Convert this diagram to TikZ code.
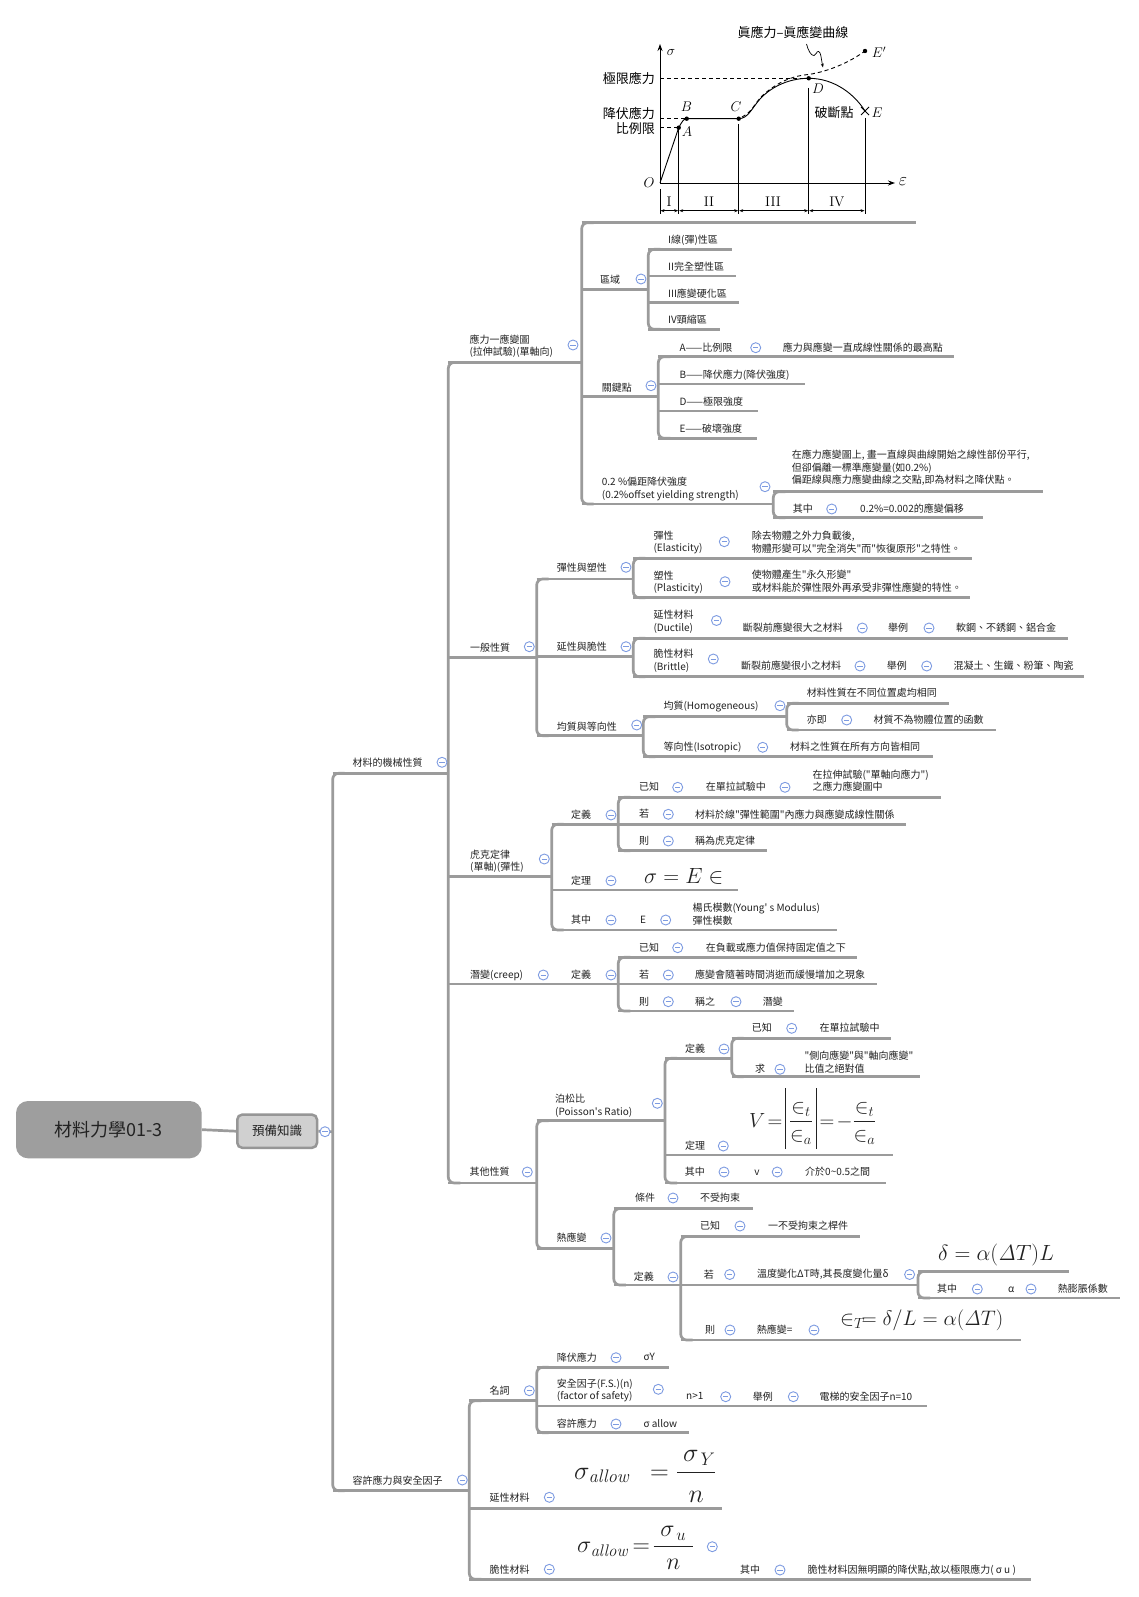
\RequirePackage{fix-cm}
\documentclass[tikz,border=0pt]{standalone}
\usepackage{amsmath}
\usepackage[no-math]{fontspec}
\setmainfont{Noto Sans CJK TC}
\newfontfamily\cjkf{Noto Sans CJK TC}
\usetikzlibrary{arrows.meta}
\definecolor{lgray}{RGB}{155,155,155}
\definecolor{icb}{RGB}{125,155,225}
\definecolor{txt}{RGB}{34,34,34}
\definecolor{rootgray}{RGB}{158,158,158}
\definecolor{boxfill}{RGB}{208,208,208}
\definecolor{boxborder}{RGB}{150,150,150}
\newcommand\mystrut{\rule[-1.2pt]{0pt}{8.8pt}}
\newcommand\mnl{\\\mystrut}
\newcommand\mmfont{\cjkf\fontsize{10}{12.8}\selectfont}
\newcommand\mmline[4]{\coordinate (#1-s) at (#2,#4); \coordinate (#1-e) at (#3,#4); \draw[ln] (#1-s) -- (#1-e);}
\newcommand\mmbar[2]{\draw[br] ([xshift=12pt]#1-s) -- (#1-s) -- (#2-s) -- ([xshift=12pt]#2-s);}
\newcommand\mlab[4]{\node[lbl] (#1) at (#2,#3) {#4};}
\newcommand\mico[3]{\node[ic] (#1) at (#2,#3) {};}
\newcommand\absbar{\rule[-22pt]{0.9pt}{61pt}}
\tikzset{
  ln/.style={draw=lgray, line width=2.7pt},
  br/.style={draw=lgray, line width=2.7pt, rounded corners=6pt},
  lbl/.style={anchor=west, inner sep=0pt, font=\mmfont, text=txt, align=left, execute at begin node=\mystrut},
  ic/.style={circle, draw=icb, fill=white, line width=0.9pt, minimum size=10pt, inner sep=0pt,
    path picture={\draw[icb, line width=0.9pt] ([xshift=-2.6pt]path picture bounding box.center) -- ([xshift=2.6pt]path picture bounding box.center);}},
  fml/.style={anchor=base west, inner sep=0pt, text=txt},
  cl/.style={draw=black, line width=0.9pt},
  tipa/.style={-{Stealth[length=7pt,width=5pt]}},
  dbl/.style={draw=black, line width=0.6pt, {Stealth[length=4pt,width=3pt]}-{Stealth[length=4pt,width=3pt]}},
  chtxt/.style={inner sep=0pt, font=\cjkf\fontsize{13}{15}\selectfont},
  chmath/.style={inner sep=0pt, font=\fontsize{14}{16}\selectfont},
}
\begin{document}
\begin{tikzpicture}[x=1pt,y=-1pt]
\fill[white] (0,0) rectangle (1138,1597);
\useasboundingbox (0,0) rectangle (1138,1597);

% ---------------- chart ----------------
\coordinate (O) at (660,183);
\coordinate (A) at (678.7,127.7);
\coordinate (B) at (686.7,118.7);
\coordinate (C) at (738.7,118.7);
\coordinate (D) at (808.7,78.3);
\coordinate (E) at (865,111);
\coordinate (Ep) at (865,51);
\coordinate (ytop) at (660,44);
\coordinate (xend) at (895,183);
\draw[cl,tipa] (O) -- (ytop);
\draw[cl,tipa] (O) -- (xend);
\draw[cl] (O) -- (A) .. controls (681.5,122.5) and (683.5,118.7) .. (B) -- (C)
  .. controls (748,118.7) and (752,108) .. (760,99) .. controls (772,86) and (790,78.3) .. (D)
  .. controls (835,78.3) and (855,95) .. (E);
\draw[cl, dash pattern=on 4pt off 3pt] (742,117) .. controls (752,112) and (755,103) .. (762,96)
  .. controls (775,84) and (790,76) .. (808.7,74.5) .. controls (830,71) and (850,62) .. (Ep);
\draw[cl, dash pattern=on 4pt off 3pt] (660,127.7) -- (A);
\draw[cl, dash pattern=on 4pt off 3pt] (660,118.7) -- (B);
\draw[cl, dash pattern=on 4pt off 3pt] (660,78.3) -- (D);
\draw[cl] (A) -- (678.7,214);
\draw[cl] (738.7,124) -- (738.7,214);
\draw[cl] (808.7,88) -- (808.7,214);
\draw[cl] (865,118) -- (865,214);
\draw[cl] (660,189) -- (660,214);
\foreach \p in {A,B,C,D,Ep} \fill (\p) circle[radius=2.2pt];
\draw[cl] (861,107) -- (869,115);
\draw[cl] (861,115) -- (869,107);
\draw[dbl] (660.5,210.7) -- (678.2,210.7);
\draw[dbl] (679.2,210.7) -- (738.2,210.7);
\draw[dbl] (739.2,210.7) -- (808.2,210.7);
\draw[dbl] (809.2,210.7) -- (864.5,210.7);
\node[chmath] (lsig) at (671,52) {$\sigma$};
\node[chmath, font=\fontsize{18}{20}\selectfont] (leps) at (903,182) {$\varepsilon$};
\node[chmath] (lO) at (649,183) {$O$};
\node[chmath] (lA) at (687,132) {$A$};
\node[chmath] (lB) at (686.5,107) {$B$};
\node[chmath] (lC) at (736,107) {$C$};
\node[chmath] (lD) at (818,89) {$D$};
\node[chmath] (lE) at (877,113) {$E$};
\node[chmath] (lEp) at (879,52) {$E'$};
\node[chtxt, anchor=east] (lult) at (655,78.3) {極限應力};
\node[chtxt, anchor=east] (lyld) at (655,113) {降伏應力};
\node[chtxt, anchor=east] (lprop) at (655,128.5) {比例限};
\node[chtxt] (lbrk) at (834,113) {破斷點};
\node[chtxt] (ltrue) at (793,32) {眞應力–眞應變曲線};
\node[chmath] (r1n) at (669,201.7) {$\mathrm{I}$};
\node[chmath] (r2n) at (709,201.7) {$\mathrm{II}$};
\node[chmath] (r3n) at (773,201.7) {$\mathrm{III}$};
\node[chmath] (r4n) at (837,201.7) {$\mathrm{IV}$};
\draw[draw=black, line width=0.7pt, -{Stealth[length=4pt,width=3pt]}] (806.5,44) .. controls (808,50) and (811,56) .. (814,55.5)
  .. controls (817,55) and (816,51) .. (818.5,51.5) .. controls (821,52) and (821,58) .. (823,67.5);

% ---------------- root ----------------
\node[fill=rootgray, rounded corners=12pt, minimum width=185.7pt, minimum height=57.3pt, inner sep=0pt,
  font=\cjkf\fontsize{18}{20}\selectfont, text=txt] (root) at (108.85,1129.65) {材料力學01-3};
\node[draw=boxborder, line width=2.5pt, fill=boxfill, rounded corners=5pt, minimum width=79.8pt, minimum height=33.2pt, inner sep=0pt,
  font=\cjkf\fontsize{12.5}{14}\selectfont, text=txt] (pre) at (277.15,1131.2) {預備知識};
\coordinate (prebar) at (332.7,1131.7);
\draw[ln] (root.east) -- (pre.west);
\draw[ln] (pre.east) -- (prebar);

% ---------------- lines ----------------
\mmline{mech}{332.7}{448.3}{773.3}
\mmline{allow}{332.7}{469.3}{1490.7}
\mmbar{mech}{allow}

\mmline{ssd}{448.3}{581.7}{362.4}
\mmline{gen}{448.3}{536.7}{657.7}
\mmline{hooke}{448.3}{551.7}{876.7}
\mmline{creep}{448.3}{618.3}{984}
\mmline{oth}{448.3}{536.7}{1183}
\mmbar{ssd}{oth}

\mmline{chart}{581.7}{916}{222.7}
\mmline{reg}{581.7}{648.3}{289.3}
\mmline{key}{581.7}{658.3}{396.7}
\mmline{off}{581.7}{773.3}{504}
\mmbar{chart}{off}

\mmline{ra}{648.3}{731.7}{249.3}
\mmline{rb}{648.3}{736}{276}
\mmline{rc}{648.3}{739}{302.7}
\mmline{rd}{648.3}{720}{329.3}
\mmbar{ra}{rd}

\mmline{ka}{658.3}{954}{356.7}
\mmline{kb}{658.3}{805}{384}
\mmline{kc}{658.3}{758.3}{411}
\mmline{kd}{658.3}{757.3}{438.3}
\mmbar{ka}{kd}

\mmline{oa}{773.3}{1043}{491.7}
\mmline{ob}{773.3}{982.7}{517.7}
\mmbar{oa}{ob}

\mmline{ep}{536.7}{633.3}{579}
\mmline{db}{536.7}{633.3}{656.7}
\mmline{hi}{536.7}{643.3}{735.7}
\mmbar{ep}{hi}

\mmline{el}{633.3}{971.7}{558.3}
\mmline{pl}{633.3}{970}{597.7}
\mmbar{el}{pl}

\mmline{du}{633.3}{1068.3}{638.3}
\mmline{brt}{633.3}{1084}{676.7}
\mmbar{du}{brt}

\mmline{ho}{643.3}{786.7}{716.7}
\mmline{iso}{643.3}{932.7}{756.7}
\mmbar{ho}{iso}

\mmline{ha}{786.7}{949.3}{703.3}
\mmline{hb}{786.7}{996}{730}
\mmbar{ha}{hb}

\mmline{hdef}{551.7}{618.3}{824.3}
\mmline{hthm}{551.7}{737.7}{890}
\mmline{hwh}{551.7}{836.7}{930}
\mmbar{hdef}{hwh}

\mmline{hk}{618.3}{941}{797.3}
\mmline{hif}{618.3}{906}{824.3}
\mmline{hthen}{618.3}{767.3}{850.7}
\mmbar{hk}{hthen}

\mmline{ck}{618.3}{856.7}{957.3}
\mmline{cif}{618.3}{877.3}{984}
\mmline{cthen}{618.3}{794}{1011}
\mmbar{ck}{cthen}

\mmline{poi}{536.7}{665}{1120.7}
\mmline{th}{536.7}{613.8}{1248.5}
\mmbar{poi}{th}

\mmline{pdef}{665}{731.7}{1058.3}
\mmline{pthm}{665}{893.3}{1155}
\mmline{pwh}{665}{885.5}{1183}
\mmbar{pdef}{pwh}

\mmline{pk}{731.7}{890.7}{1038.3}
\mmline{pq}{731.7}{920}{1076.7}
\mmbar{pk}{pq}

\mmline{tcond}{613.8}{752.7}{1208.5}
\mmline{tdef}{613.8}{680.7}{1285}
\mmbar{tcond}{tdef}

\mmline{tk}{680.7}{859.8}{1236.5}
\mmline{tif}{680.7}{918}{1285}
\mmline{tthen}{680.7}{1020.7}{1340}
\mmbar{tk}{tthen}

\mmline{tf}{918}{1069}{1271.4}
\mmline{twh}{918}{1120}{1298}
\mmbar{tf}{twh}

\mmline{noun}{469.3}{536.7}{1400.7}
\mmline{duc}{469.3}{722.3}{1508.3}
\mmline{bri}{469.3}{1031}{1579.3}
\mmbar{noun}{bri}

\mmline{ny}{536.7}{669.3}{1367.3}
\mmline{nfs}{536.7}{927.3}{1406}
\mmline{nal}{536.7}{689.3}{1432.7}
\mmbar{ny}{nal}

% ---------------- labels ----------------
\mlab{t-mech}{352.3}{763.3}{材料的機械性質}
\mlab{t-allow}{352.3}{1481}{容許應力與安全因子}
\mlab{t-ssd}{469.3}{346.2}{應力一應變圖\mnl(拉伸試驗)(單軸向)}
\mlab{t-gen}{470}{647.7}{一般性質}
\mlab{t-hooke}{470}{861.2}{虎克定律\mnl(單軸)(彈性)}
\mlab{t-creep}{470}{975}{潛變(creep)}
\mlab{t-creepdef}{571}{975}{定義}
\mlab{t-oth}{469.3}{1172}{其他性質}
\mlab{t-reg}{600}{280}{區域}
\mlab{t-key}{601.7}{387.7}{關鍵點}
\mlab{t-off}{601.7}{489.2}{0.2 \%偏距降伏強度\mnl(0.2\%offset yielding strength)}
\mlab{t-ra}{668}{240}{I線(彈)性區}
\mlab{t-rb}{668}{266.7}{II完全塑性區}
\mlab{t-rc}{668}{293.3}{III應變硬化區}
\mlab{t-rd}{668}{320}{IV頸縮區}
\mlab{t-ka}{679.3}{347.7}{A——比例限}
\mlab{t-ka2}{782.7}{347.7}{應力與應變一直成線性關係的最高點}
\mlab{t-kb}{679.3}{375}{B——降伏應力(降伏強度)}
\mlab{t-kc}{679.3}{401.7}{D——極限強度}
\mlab{t-kd}{679.3}{429}{E——破壞強度}
\mlab{t-oa}{791.7}{467.8}{在應力應變圖上, 畫一直線與曲線開始之線性部份平行,\mnl 但卻偏離一標準應變量(如0.2\%)\mnl 偏距線與應力應變曲線之交點,即為材料之降伏點。}
\mlab{t-ob}{792.7}{509}{其中}
\mlab{t-ob2}{860}{509}{0.2\%=0.002的應變偏移}
\mlab{t-ep}{556.7}{568.3}{彈性與塑性}
\mlab{t-db}{556.7}{646.7}{延性與脆性}
\mlab{t-hi}{556.7}{726.7}{均質與等向性}
\mlab{t-el}{653.3}{542.5}{彈性\mnl(Elasticity)}
\mlab{t-el2}{751.7}{542.5}{除去物體之外力負載後,\mnl 物體形變可以"完全消失"而"恢復原形"之特性。}
\mlab{t-pl}{653.3}{582.5}{塑性\mnl(Plasticity)}
\mlab{t-pl2}{751.7}{581}{使物體產生"永久形變"\mnl 或材料能於彈性限外再承受非彈性應變的特性。}
\mlab{t-du}{653.3}{621.4}{延性材料\mnl(Ductile)}
\mlab{t-du2}{742.7}{628}{斷裂前應變很大之材料}
\mlab{t-du3}{888}{628}{舉例}
\mlab{t-du4}{956}{628}{軟鋼、不銹鋼、鋁合金}
\mlab{t-brt}{653.3}{660.5}{脆性材料\mnl(Brittle)}
\mlab{t-brt2}{741}{666}{斷裂前應變很小之材料}
\mlab{t-brt3}{886.7}{666}{舉例}
\mlab{t-brt4}{953.3}{666}{混凝土、生鐵、粉筆、陶瓷}
\mlab{t-ho}{663.3}{706.7}{均質(Homogeneous)}
\mlab{t-iso}{663.3}{747.3}{等向性(Isotropic)}
\mlab{t-iso2}{790}{747.3}{材料之性質在所有方向皆相同}
\mlab{t-ha}{806.7}{693.3}{材料性質在不同位置處均相同}
\mlab{t-hb}{806.7}{720}{亦即}
\mlab{t-hb2}{873.3}{720}{材質不為物體位置的函數}
\mlab{t-hdef}{571}{815}{定義}
\mlab{t-hthm}{571}{880.7}{定理}
\mlab{t-hwh}{571}{920}{其中}
\mlab{t-hwh2}{640}{920}{E}
\mlab{t-hwh3}{692.3}{914}{楊氏模數(Young' s Modulus)\mnl 彈性模數}
\mlab{t-hk}{639}{787.3}{已知}
\mlab{t-hk2}{705.7}{787.3}{在單拉試驗中}
\mlab{t-hk3}{812.3}{780.8}{在拉伸試驗("單軸向應力")\mnl 之應力應變圖中}
\mlab{t-hif}{639}{814.3}{若}
\mlab{t-hif2}{695}{814.3}{材料於線"彈性範圍"內應力與應變成線性關係}
\mlab{t-hthen}{639}{841}{則}
\mlab{t-hthen2}{695}{841}{稱為虎克定律}
\mlab{t-ck}{639}{947.7}{已知}
\mlab{t-ck2}{705.7}{947.7}{在負載或應力值保持固定值之下}
\mlab{t-cif}{639}{975}{若}
\mlab{t-cif2}{695}{975}{應變會隨著時間消逝而緩慢增加之現象}
\mlab{t-cthen}{639}{1001.7}{則}
\mlab{t-cthen2}{695}{1001.7}{稱之}
\mlab{t-cthen3}{762.7}{1001.7}{潛變}
\mlab{t-poi}{555}{1105.8}{泊松比\mnl(Poisson's Ratio)}
\mlab{t-th}{556.4}{1238}{熱應變}
\mlab{t-pdef}{685}{1049}{定義}
\mlab{t-pthm}{685}{1146}{定理}
\mlab{t-pwh}{684.6}{1172}{其中}
\mlab{t-pwh2}{754.2}{1172}{v}
\mlab{t-pwh3}{805}{1172}{介於0\textasciitilde0.5之間}
\mlab{t-pk}{751.7}{1028.3}{已知}
\mlab{t-pk2}{819.3}{1028.3}{在單拉試驗中}
\mlab{t-pq}{755}{1069.3}{求}
\mlab{t-pq2}{804.3}{1062.6}{"側向應變"與"軸向應變"\mnl 比值之絕對值}
\mlab{t-tcond}{634.8}{1198}{條件}
\mlab{t-tcond2}{700}{1198}{不受拘束}
\mlab{t-tdef}{633.7}{1277}{定義}
\mlab{t-tk}{700}{1226}{已知}
\mlab{t-tk2}{768}{1226}{一不受拘束之桿件}
\mlab{t-tif}{703.7}{1274.5}{若}
\mlab{t-tif2}{757}{1274.5}{溫度變化ΔT時,其長度變化量δ}
\mlab{t-tthen}{705}{1330}{則}
\mlab{t-tthen2}{756.7}{1330}{熱應變=}
\mlab{t-twh}{937}{1289}{其中}
\mlab{t-twh2}{1008}{1289}{α}
\mlab{t-twh3}{1057.7}{1289}{熱膨脹係數}
\mlab{t-noun}{489.3}{1390.7}{名詞}
\mlab{t-duc}{489.3}{1498.3}{延性材料}
\mlab{t-bri}{489.3}{1570}{脆性材料}
\mlab{t-bri2}{740}{1570}{其中}
\mlab{t-bri3}{807.3}{1570}{脆性材料因無明顯的降伏點,故以極限應力( σ u )}
\mlab{t-ny}{556.7}{1357.7}{降伏應力}
\mlab{t-ny2}{643.3}{1357.7}{σY}
\mlab{t-nfs}{556.7}{1390.4}{安全因子(F.S.)(n)\mnl(factor of safety)}
\mlab{t-nfs2}{686}{1396.7}{n>1}
\mlab{t-nfs3}{752.7}{1396.7}{舉例}
\mlab{t-nfs4}{819.3}{1396.7}{電梯的安全因子n=10}
\mlab{t-nal}{556.7}{1424}{容許應力}
\mlab{t-nal2}{643.3}{1424}{σ allow}

% ---------------- formulas ----------------
\node[fml, font=\fontsize{22}{22}\selectfont] (f-hooke) at (644,883.5) {$\sigma = E \in$};
\node[fml, font=\fontsize{20.5}{21}\selectfont] (f-poi) at (749,1127) {$V\!=\!\absbar\,\dfrac{\in_t}{\in_a}\,\absbar\!=\!-\dfrac{\in_t}{\in_a}$};
\node[fml, font=\fontsize{22}{22}\selectfont] (f-tf) at (938,1260.5) {$\delta=\alpha(\mathit{\Delta} T)L$};
\node[fml, font=\fontsize{21}{21}\selectfont] (f-tthen) at (840,1325.5) {$\in_T\!=\delta/L=\alpha(\mathit{\Delta} T)$};
\node[fml, font=\fontsize{26}{26}\selectfont] (f-duc) at (574,1479) {$\sigma_{\mathit{allow}}\ \ =\dfrac{\ \sigma_{\,Y}}{\rule{0pt}{26pt}n}$};
\node[fml, font=\fontsize{24}{24}\selectfont] (f-bri) at (577,1552.7) {$\sigma_{\mathit{allow}}\!=\!\dfrac{\;\sigma_{\,u}\;}{n}$};

% ---------------- icons ----------------
\mico{i-pre}{325}{1131.7}
\mico{i-mech}{442}{762.3}
\mico{i-allow}{462.3}{1480}
\mico{i-ssd}{573}{345}
\mico{i-gen}{529.3}{646.7}
\mico{i-hooke}{544.3}{859}
\mico{i-creep}{543.3}{975}
\mico{i-creepdef}{611}{975}
\mico{i-oth}{527.3}{1172}
\mico{i-reg}{641}{279}
\mico{i-key}{651}{385.7}
\mico{i-off}{765}{486.7}
\mico{i-ka}{755.7}{347.7}
\mico{i-ob}{831.7}{509}
\mico{i-ep}{626}{567.3}
\mico{i-db}{626}{646.7}
\mico{i-hi}{636.7}{725}
\mico{i-el}{724.3}{541.7}
\mico{i-pl}{725}{581.7}
\mico{i-du}{716.5}{620.5}
\mico{i-du2}{862.3}{628}
\mico{i-du3}{929}{628}
\mico{i-brt}{713.3}{659}
\mico{i-brt2}{860}{666}
\mico{i-brt3}{926.7}{666}
\mico{i-ho}{780}{705.7}
\mico{i-iso}{762.7}{747.3}
\mico{i-hb}{846.7}{720}
\mico{i-hdef}{611}{815}
\mico{i-hthm}{611}{880.7}
\mico{i-hwh}{611}{920}
\mico{i-hwh2}{665.7}{920}
\mico{i-hk}{677.7}{787.3}
\mico{i-hk2}{785}{787.3}
\mico{i-hif}{668.3}{814.3}
\mico{i-hthen}{668.3}{841}
\mico{i-ck}{677.7}{947.7}
\mico{i-cif}{668.3}{975}
\mico{i-cthen}{668.3}{1001.7}
\mico{i-cthen2}{736}{1001.7}
\mico{i-poi}{657.3}{1103.3}
\mico{i-th}{606}{1238}
\mico{i-pdef}{724}{1049}
\mico{i-pthm}{723.3}{1146}
\mico{i-pwh}{724}{1172}
\mico{i-pwh2}{777.2}{1172}
\mico{i-pk}{791.7}{1028.3}
\mico{i-pq}{780}{1069.3}
\mico{i-tcond}{673}{1198}
\mico{i-tdef}{673}{1277}
\mico{i-tk}{740}{1226}
\mico{i-tif}{729.7}{1274.5}
\mico{i-tif2}{909.6}{1274.5}
\mico{i-tthen}{730}{1330}
\mico{i-tthen2}{814}{1330}
\mico{i-twh}{977.3}{1289}
\mico{i-twh2}{1031}{1289}
\mico{i-noun}{529.3}{1390.7}
\mico{i-duc}{549.3}{1497.3}
\mico{i-bri}{549.3}{1569.3}
\mico{i-bri2}{712.3}{1546.7}
\mico{i-bri3}{780}{1570}
\mico{i-ny}{616}{1357.7}
\mico{i-nfs}{658.3}{1389.3}
\mico{i-nfs2}{725.7}{1396.7}
\mico{i-nfs3}{793.3}{1396.7}
\mico{i-nal}{616}{1424}
\end{tikzpicture}
\end{document}
